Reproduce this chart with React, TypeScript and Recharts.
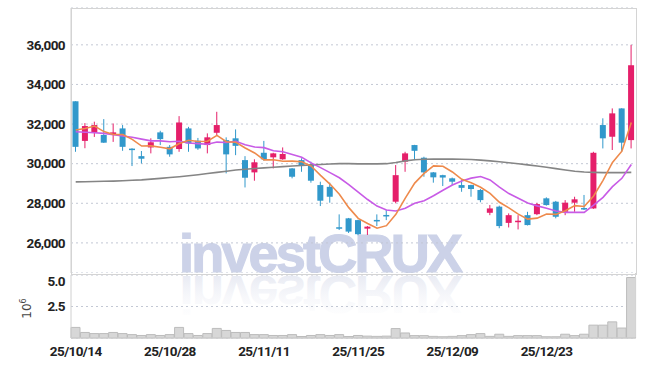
import React from "react";
import {
  ComposedChart,
  Bar,
  Line,
  XAxis,
  YAxis,
  CartesianGrid,
  ReferenceLine,
} from "recharts";

// 거래일 (25/10/14 ~ 26/01/08)
const dates = [
  "25/10/14", "25/10/15", "25/10/16", "25/10/17", "25/10/20", "25/10/21", "25/10/22", "25/10/23", "25/10/24", "25/10/27",
  "25/10/28", "25/10/29", "25/10/30", "25/10/31", "25/11/03", "25/11/04", "25/11/05", "25/11/06", "25/11/07", "25/11/10",
  "25/11/11", "25/11/12", "25/11/13", "25/11/14", "25/11/17", "25/11/18", "25/11/19", "25/11/20", "25/11/21", "25/11/24",
  "25/11/25", "25/11/26", "25/11/27", "25/11/28", "25/12/01", "25/12/02", "25/12/03", "25/12/04", "25/12/05", "25/12/08",
  "25/12/09", "25/12/10", "25/12/11", "25/12/12", "25/12/15", "25/12/16", "25/12/17", "25/12/18", "25/12/19", "25/12/22",
  "25/12/23", "25/12/24", "25/12/26", "25/12/29", "25/12/30", "26/01/02", "26/01/05", "26/01/06", "26/01/07", "26/01/08",
];

const opens = [
  33150, 31150, 31560, 31450, 31450, 31780, 30760, 30380, 30820, 31580,
  30850, 30740, 31780, 31160, 30940, 31560, 31190, 31280, 30180, 29560,
  30550, 30320, 30220, 29760, 30180, 29970, 28920, 28830, 26790, 27240,
  27150, 26720, 27160, 27410, 28080, 30100, 30940, 30300, 29560, 29420,
  29260, 28920, 28920, 28670, 27520, 27830, 27010, 27050, 27400, 27450,
  28250, 28080, 27570, 28030, 27760, 27740, 31950, 31360, 32790, 31190,
];
const highs = [
  33150, 32050, 32120, 32250, 32030, 31950, 30780, 30640, 31280, 31660,
  30940, 32400, 31860, 31300, 31530, 32620, 31330, 31730, 30380, 30220,
  31150, 30550, 30820, 29780, 30270, 30100, 29090, 29040, 27440, 27260,
  27170, 26850, 27440, 27660, 29930, 30600, 30950, 30350, 29580, 29440,
  29300, 29170, 28940, 28720, 27910, 27880, 27490, 27400, 27570, 28020,
  28300, 28120, 28160, 28330, 28420, 30600, 32290, 32790, 32800, 36000,
];
const lows = [
  30600, 30780, 31350, 31050, 31100, 30650, 29880, 30010, 30520, 30940,
  30350, 30600, 30600, 30700, 30520, 31400, 29510, 30430, 28800, 29140,
  30150, 29760, 30200, 29260, 29590, 29040, 27860, 28030, 26650, 26500,
  26390, 26400, 26850, 27150, 28000, 29590, 30180, 29340, 29040, 28870,
  28920, 28580, 28330, 28050, 27400, 26740, 26780, 26680, 26880, 27400,
  27880, 27240, 27400, 27570, 27660, 27720, 30770, 30690, 30600, 30770,
];
const closes = [
  30850, 31900, 31950, 31060, 31580, 30850, 30720, 30250, 31080, 31240,
  30470, 32080, 31020, 30770, 31330, 31950, 30470, 30900, 29290, 30070,
  30220, 30520, 30490, 29340, 29930, 29140, 28130, 28330, 26750, 26570,
  26440, 26820, 27140, 27390, 29420, 30520, 30650, 29560, 29310, 29300,
  29090, 28780, 28720, 28160, 27740, 26850, 27400, 27120, 26900, 27960,
  27910, 27320, 28030, 28200, 27730, 30550, 31280, 32540, 31060, 34970,
];

// 이동평균선
const ma5 = [
  31700, 31780, 31900, 31620, 31470, 31470, 31230, 30890, 30900, 30830,
  30750, 31020, 31180, 31120, 31130, 31430, 31110, 31080, 30790, 30540,
  30190, 30200, 30120, 30130, 30100, 29880, 29410, 28970, 28460, 27780,
  27240, 26980, 26740, 26870, 27440, 28260, 29020, 29510, 29890, 29870,
  29580, 29210, 29040, 28810, 28500, 28050, 27770, 27450, 27200, 27250,
  27460, 27440, 27620, 27880, 27840, 28370, 29160, 30060, 30630, 32080,
];
const ma10 = [
  31610, 31590, 31560, 31530, 31460, 31400, 31330, 31240, 31150, 31150,
  31110, 31130, 31040, 31010, 30980, 31090, 31070, 31130, 30950, 30840,
  30810, 30650, 30600, 30460, 30320, 30040, 29800, 29550, 29290, 28940,
  28560, 28190, 27860, 27660, 27610, 27750, 28000, 28130, 28380, 28660,
  28920, 29120, 29270, 29350, 29180, 28820, 28490, 28250, 28010, 27870,
  27750, 27610, 27540, 27540, 27540, 27910, 28300, 28840, 29260, 29960,
];
const ma60 = [
  29080, 29090, 29100, 29110, 29120, 29140, 29160, 29180, 29220, 29260,
  29300, 29340, 29390, 29440, 29500, 29560, 29620, 29680, 29720, 29760,
  29790, 29820, 29850, 29880, 29910, 29940, 29960, 29980, 30000, 30000,
  29990, 29990, 29990, 30000, 30060, 30140, 30200, 30220, 30230, 30230,
  30230, 30220, 30210, 30180, 30140, 30100, 30050, 30000, 29940, 29880,
  29820, 29750, 29680, 29620, 29580, 29560, 29550, 29550, 29550, 29560,
];

const volumes = [
  840000, 440000, 350000, 350000, 440000, 350000, 270000, 200000, 270000, 200000,
  270000, 840000, 350000, 200000, 350000, 760000, 600000, 440000, 440000, 270000,
  270000, 200000, 200000, 270000, 120000, 200000, 270000, 200000, 270000, 120000,
  200000, 150000, 130000, 150000, 750000, 400000, 190000, 190000, 130000, 100000,
  130000, 190000, 270000, 350000, 130000, 300000, 130000, 190000, 190000, 190000,
  100000, 100000, 300000, 190000, 300000, 1020000, 1020000, 1280000, 790000, 4800000,
];

const priceTicks = [26000, 28000, 30000, 32000, 34000, 36000];
const volumeTicks = [2500000, 5000000];
const labelDates = ["25/10/14", "25/10/28", "25/11/11", "25/11/25", "25/12/09", "25/12/23"];

const RED = "#e51f6a";
const BLUE = "#3198cb";
const GRID = "#c3c8d4";
const AXIS_FONT = "Roboto, 'Liberation Sans', sans-serif";

const rows = dates.map((date, i) => ({
  date,
  open: opens[i],
  high: highs[i],
  low: lows[i],
  close: closes[i],
  ma5: ma5[i],
  ma10: ma10[i],
  ma60: ma60[i],
  volume: volumes[i],
}));

const Candle = (props: any) => {
  const { x, y, width, height, payload } = props;
  if (!payload || height == null) return null;
  const { open, close, high, low } = payload;
  const color = close >= open ? RED : BLUE;
  const ratio = high > low ? height / (high - low) : 0;
  const top = y + (high - Math.max(open, close)) * ratio;
  const bottom = y + (high - Math.min(open, close)) * ratio;
  const cx = x + width / 2;
  return (
    <g>
      <line x1={cx} x2={cx} y1={y} y2={y + height} stroke={color} strokeWidth={1} />
      <rect x={x} y={top} width={width} height={Math.max(bottom - top, 1.5)} fill={color} />
    </g>
  );
};

const ExpLabel = (props: any) => {
  const { viewBox } = props;
  if (!viewBox) return null;
  const cx = 31;
  const cy = viewBox.y + viewBox.height / 2 + 2;
  return (
    <text
      x={cx}
      y={cy}
      transform={`rotate(-90 ${cx} ${cy})`}
      textAnchor="middle"
      fontFamily="'DejaVu Sans', sans-serif"
      fontSize={12}
      fill="#444"
    >
      10
      <tspan dy={-5} fontSize={8}>6</tspan>
    </text>
  );
};

const tickStyle = { fill: "#222", fontSize: 13.5, fontFamily: AXIS_FONT, fontWeight: 700, letterSpacing: -0.6 };

const WM_FONT = "'Liberation Sans', Arial, sans-serif";

const Watermark = () => (
  <svg width={645} height={366} style={{ position: "absolute", left: 0, top: 0 }}>
    <defs>
      <linearGradient id="fade" x1="0" y1="0" x2="0" y2="1">
        <stop offset="0" stopColor="#ffffff" stopOpacity={0.2} />
        <stop offset="1" stopColor="#dfe2ee" stopOpacity={1} />
      </linearGradient>
    </defs>
    <text x={179} y={272} fontFamily={WM_FONT} fontWeight={900} fontSize={54} letterSpacing={-2.8} fill="#ccd2e8" stroke="#ccd2e8" strokeWidth={1.2}>
      investCRUX
    </text>
    <g transform="translate(0 548) scale(1 -1)">
      <text x={179} y={272} fontFamily={WM_FONT} fontWeight={900} fontSize={54} letterSpacing={-2.8} fill="url(#fade)">
        investCRUX
      </text>
    </g>
  </svg>
);

export default function App() {
  return (
    <div style={{ position: "fixed", left: 0, top: 0, width: 645, height: 366, background: "#fff" }}>
      <Watermark />
      {/* 세로 보조선 (캔들 아래 층) */}
      <div style={{ position: "absolute", left: 0, top: 0 }}>
        <ComposedChart width={645} height={273} data={rows} margin={{ top: 8, right: 9, bottom: 0, left: 0 }}>
          <XAxis dataKey="date" hide />
          <YAxis domain={[24480, 37860]} width={71} tick={false} tickLine={false} axisLine={false} />
          {labelDates.map((d) => (
            <ReferenceLine key={d} x={d} stroke={GRID} strokeDasharray="2 3" />
          ))}
        </ComposedChart>
      </div>
      <div style={{ position: "absolute", left: 0, top: 273 }}>
        <ComposedChart width={645} height={93} data={rows} margin={{ top: 0, right: 9, bottom: 0, left: 0 }}>
          <XAxis dataKey="date" height={28} tick={false} tickLine={false} axisLine={false} />
          <YAxis domain={[0, 5000000]} width={71} tick={false} tickLine={false} axisLine={false} />
          {labelDates.map((d) => (
            <ReferenceLine key={d} x={d} stroke={GRID} strokeDasharray="2 3" />
          ))}
        </ComposedChart>
      </div>
      {/* 가격 차트 */}
      <div style={{ position: "absolute", left: 0, top: 0 }}>
        <ComposedChart
          width={645}
          height={273}
          data={rows}
          margin={{ top: 8, right: 9, bottom: 0, left: 0 }}
          barCategoryGap={1.5}
        >
          <CartesianGrid vertical={false} stroke={GRID} strokeDasharray="2 3" />
          <XAxis dataKey="date" hide />
          <YAxis
            domain={[24480, 37860]}
            ticks={priceTicks}
            width={71}
            tickLine={false}
            tickMargin={0}
            axisLine={{ stroke: "#d0d0d0" }}
            tick={tickStyle}
            tickFormatter={(v: number) => v.toLocaleString("en-US")}
          />
          <Bar dataKey={(r: any) => [r.low, r.high]} shape={<Candle />} isAnimationActive={false} />
          <Line type="linear" dataKey="ma60" stroke="#858585" strokeWidth={1.6} dot={false} activeDot={false} isAnimationActive={false} />
          <Line type="linear" dataKey="ma10" stroke="#c85be6" strokeWidth={1.6} dot={false} activeDot={false} isAnimationActive={false} />
          <Line type="linear" dataKey="ma5" stroke="#ee8a4c" strokeWidth={1.6} dot={false} activeDot={false} isAnimationActive={false} />
        </ComposedChart>
      </div>
      {/* 거래량 차트 */}
      <div style={{ position: "absolute", left: 0, top: 273 }}>
        <ComposedChart
          width={645}
          height={93}
          data={rows}
          margin={{ top: 2, right: 9, bottom: 0, left: 0 }}
          barCategoryGap={0}
        >
          <CartesianGrid vertical={false} stroke={GRID} strokeDasharray="2 3" />
          <XAxis
            dataKey="date"
            interval={9}
            height={28}
            tickLine={false}
            axisLine={{ stroke: "#d0d0d0" }}
            tick={tickStyle}
          />
          <YAxis
            domain={[0, 5000000]}
            ticks={volumeTicks}
            width={71}
            tickLine={false}
            tickMargin={0}
            axisLine={{ stroke: "#d0d0d0" }}
            tick={tickStyle}
            tickFormatter={(v: number) => (v / 1000000).toFixed(1)}
            label={<ExpLabel />}
          />
          <Bar dataKey="volume" fill="#d7d7d7" stroke="#bcbcbc" strokeWidth={1} isAnimationActive={false} />
        </ComposedChart>
      </div>
      {/* 테두리 */}
      <div style={{ position: "absolute", left: 71, top: 8, width: 564, height: 265, border: "1px solid #d4d4d4", pointerEvents: "none" }} />
      <div style={{ position: "absolute", left: 71, top: 273, width: 564, height: 64, borderRight: "1px solid #d4d4d4", pointerEvents: "none" }} />
    </div>
  );
}
